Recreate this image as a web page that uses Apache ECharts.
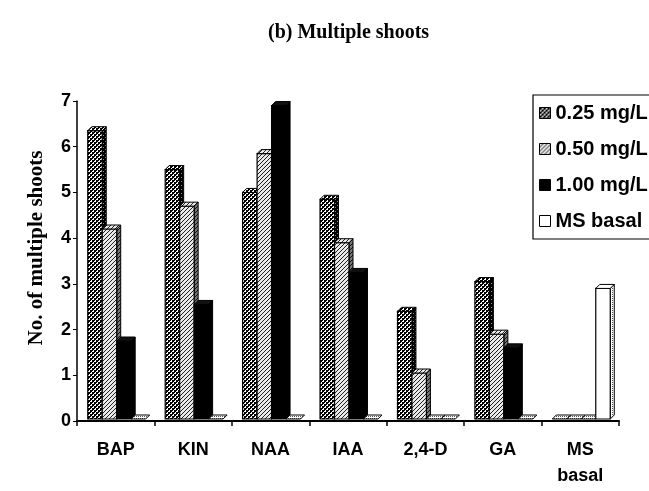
<!DOCTYPE html>
<html>
<head>
<meta charset="utf-8">
<script src="https://cdn.jsdelivr.net/npm/echarts@6/dist/echarts.min.js"></script>
<style>html,body{margin:0;padding:0;background:#fff}#c{width:649px;height:491px}</style>
</head>
<body>
<div id="c"></div>
<script>
const categories = ['BAP', 'KIN', 'NAA', 'IAA', '2,4-D', 'GA', 'MS\nbasal'];
const seriesNames = ['0.25 mg/L', '0.50 mg/L', '1.00 mg/L', 'MS basal'];
const v025 = [6.35, 5.5, 5.0, 4.85, 2.4, 3.05, 0];
const v050 = [4.2, 4.7, 5.85, 3.9, 1.05, 1.9, 0];
const v100 = [1.75, 2.55, 6.9, 3.25, 0, 1.6, 0];
const vMS  = [0, 0, 0, 0, 0, 0, 2.9];
const yTicks = [0, 1, 2, 3, 4, 5, 6, 7];

function pat(w, h, draw) {
  const c = document.createElement('canvas');
  c.width = w; c.height = h;
  const g = c.getContext('2d');
  draw(g);
  return { image: c, repeat: 'repeat' };
}
const checker = pat(4, 4, g => {
  g.fillStyle = '#fff'; g.fillRect(0, 0, 4, 4);
  g.fillStyle = '#000'; g.fillRect(0, 0, 2, 2); g.fillRect(2, 2, 2, 2);
  g.fillRect(0, 2, 1, 1); g.fillRect(2, 0, 1, 1);
});
const checkerDark = pat(4, 4, g => {
  g.fillStyle = '#000'; g.fillRect(0, 0, 4, 4);
  g.fillStyle = '#888'; g.fillRect(1, 1, 1, 1); g.fillRect(3, 3, 1, 1);
});
const hatch = pat(4, 4, g => {
  g.fillStyle = '#e8e8e8'; g.fillRect(0, 0, 4, 4);
  g.fillStyle = '#222';
  g.fillRect(3, 0, 1, 1); g.fillRect(2, 1, 1, 1); g.fillRect(1, 2, 1, 1); g.fillRect(0, 3, 1, 1);
});
const hatchDark = pat(4, 4, g => {
  g.fillStyle = '#777'; g.fillRect(0, 0, 4, 4);
  g.fillStyle = '#111';
  g.fillRect(3, 0, 1, 1); g.fillRect(2, 1, 1, 1); g.fillRect(1, 2, 1, 1); g.fillRect(0, 3, 1, 1);
});
const dotGrey = pat(2, 2, g => {
  g.fillStyle = '#fff'; g.fillRect(0, 0, 2, 2);
  g.fillStyle = '#555'; g.fillRect(0, 0, 1, 1);
});

const styles = [
  { front: checker, side: checkerDark, top: checker },
  { front: hatch, side: hatchDark, top: hatch },
  { front: '#000', side: '#000', top: '#111' },
  { front: '#fff', side: dotGrey, top: '#fff' }
];
const allValues = [v025, v050, v100, vMS];

function makeRender(k) {
  const st = styles[k];
  return function (params, api) {
    const ci = api.value(0), v = api.value(1);
    const base = api.coord([ci, 0]);
    const top = api.coord([ci, v]);
    const band = api.size([1, 0])[0];
    const w = band * 0.187;
    const dx = 4, dy = 4;
    const x0 = base[0] - 2 * w + k * w + 1;
    const y0 = base[1] - 2, y1 = top[1] - (v === 0 ? 2 : 0);
    const children = [];
    if (v > 0) {
      children.push({ type: 'polygon', shape: { points: [[x0 + w, y1], [x0 + w + dx, y1 - dy], [x0 + w + dx, y0 - dy], [x0 + w, y0]] },
        style: { fill: st.side, stroke: '#000', lineWidth: 1 } });
      children.push({ type: 'rect', shape: { x: x0, y: y1, width: w, height: y0 - y1 },
        style: { fill: st.front, stroke: '#000', lineWidth: 1.2 } });
    }
    children.push({ type: 'polygon', shape: { points: [[x0, y1], [x0 + dx, y1 - dy], [x0 + w + dx, y1 - dy], [x0 + w, y1]] },
      style: { fill: v > 0 ? st.top : dotGrey, stroke: '#000', lineWidth: 1 } });
    return { type: 'group', children };
  };
}

const chart = echarts.init(document.getElementById('c'), null, { renderer: 'canvas' });
chart.setOption({
  animation: false,
  backgroundColor: '#fff',
  title: {
    text: '(b) Multiple shoots', left: 263, top: 18,
    textStyle: { fontFamily: 'Liberation Serif', fontWeight: 'bold', fontSize: 20, color: '#000' }
  },
  legend: {
    orient: 'vertical', left: 533, top: 95,
    padding: [8, 12, 8, 6], itemGap: 16, itemWidth: 11, itemHeight: 11,
    borderColor: '#000', borderWidth: 1.2,
    textStyle: { fontFamily: 'Liberation Sans', fontWeight: 'bold', fontSize: 20, color: '#000' },
    data: seriesNames.map((n, k) => ({ name: n, icon: 'rect',
      itemStyle: { color: styles[k].front, borderColor: '#000', borderWidth: 1 } }))
  },
  grid: { left: 77, right: 30, top: 101, bottom: 70, containLabel: false },
  xAxis: {
    type: 'category', data: categories, boundaryGap: true,
    axisLine: { lineStyle: { color: '#000', width: 2 } },
    axisTick: { show: true, length: 5, lineStyle: { color: '#000', width: 1.5 } },
    axisLabel: { color: '#000', fontFamily: 'Liberation Sans', fontWeight: 'bold', fontSize: 18, lineHeight: 26, margin: 16 }
  },
  yAxis: {
    type: 'value', min: yTicks[0], max: yTicks[yTicks.length - 1], interval: 1,
    name: 'No. of multiple shoots', nameLocation: 'middle', nameGap: 30, nameRotate: 90,
    nameTextStyle: { fontFamily: 'Liberation Serif', fontWeight: 'bold', fontSize: 21, color: '#000', padding: [0, 0, 0, 26] },
    axisLine: { show: true, lineStyle: { color: '#000', width: 1.5 } },
    axisTick: { show: true, length: 4, lineStyle: { color: '#000' } },
    splitLine: { show: false },
    axisLabel: { color: '#000', fontFamily: 'Liberation Sans', fontWeight: 'bold', fontSize: 18, margin: 6,
      formatter: v => yTicks.includes(v) ? String(v) : '' }
  },
  series: allValues.map((vals, k) => ({
    name: seriesNames[k], type: 'custom',
    itemStyle: { color: styles[k].front, borderColor: '#000' },
    renderItem: makeRender(k),
    encode: { x: 0, y: 1 },
    data: vals.map((v, i) => [i, v])
  }))
});
</script>
</body>
</html>
